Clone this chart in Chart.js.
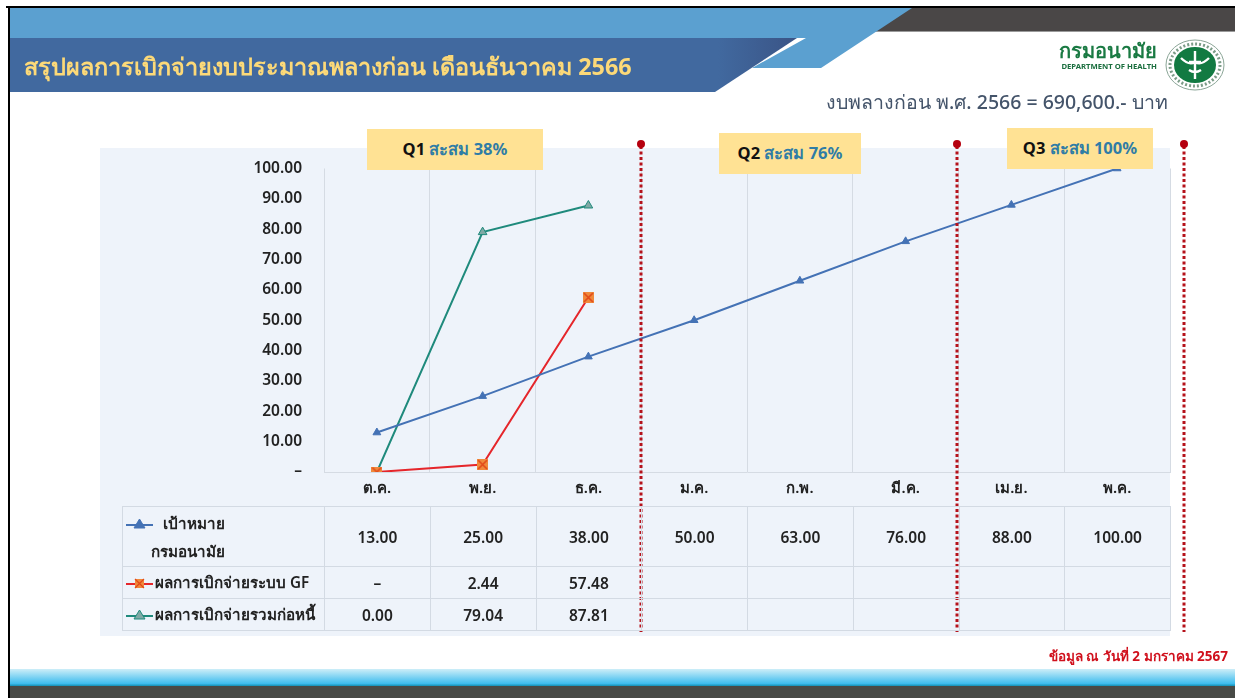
<!DOCTYPE html>
<html lang="th">
<head>
<meta charset="utf-8">
<title>สรุปผลการเบิกจ่ายงบประมาณพลางก่อน</title>
<script src="https://cdn.jsdelivr.net/npm/chart.js@4/dist/chart.umd.min.js"></script>
<style>
  html, body { margin: 0; padding: 0; background: #fff; }
  body { width: 1235px; height: 698px; position: relative; overflow: hidden;
         font-family: "Noto Sans", "Liberation Sans", "DejaVu Sans", sans-serif; }
  .abs { position: absolute; }
  #deco { left: 0; top: 0; }
  #panel { left: 100px; top: 148px; width: 1070px; height: 488px; background: #eef3fa; }
  #chart { left: 0; top: 0; }
  #title { left: 24px; top: 48px; font-size: 23.4px; font-weight: 700; color: #fcd978; white-space: nowrap; }
  #budget { left: 826px; top: 87px; font-size: 19.5px; font-weight: 500; color: #44546a; white-space: nowrap; }
  #dept { left: 1030px; top: 40px; width: 127px; text-align: right; color: #1a7a43; font-size: 20px; font-weight: 700; line-height: 22px; white-space: nowrap; }
  #dept small { display: block; font-size: 7.7px; line-height: 9px; color: #1a6e3e; }
  #source { right: 7px; top: 645px; font-size: 13.5px; font-weight: 700; color: #d0101c; white-space: nowrap; }
  .qbox { position: absolute; background: #ffe294; height: 41px; line-height: 40px; text-align: center;
          font-size: 16.5px; font-weight: 700; color: #111; white-space: nowrap; }
  .qbox span { color: #2f7ca6; }
  #dataTable { position: absolute; left: 122px; top: 506px; width: 1048px; border-collapse: collapse; table-layout: fixed;
               font-size: 15.5px; font-weight: 600; color: #222; }
  #dataTable td { border: 1px solid #d3dae3; text-align: center; padding: 0; height: 31px; }
  #dataTable td.head { text-align: left; font-size: 15.2px; white-space: nowrap; padding-left: 2px; overflow: hidden; }
  #dataTable tr:first-child td { height: 59px; }
  #dataTable svg { vertical-align: middle; margin-right: 1px; }
</style>
</head>
<body>
<svg id="deco" class="abs" width="1235" height="698">
  <defs>
    <linearGradient id="foot" x1="0" y1="0" x2="0" y2="1">
      <stop offset="0" stop-color="#cdeef8"/>
      <stop offset=".85" stop-color="#3fbdee"/>
      <stop offset="1" stop-color="#128fb4"/>
    </linearGradient>
    <linearGradient id="shade" x1="0" y1="0" x2="1" y2="0">
      <stop offset="0" stop-color="#41699f"/>
      <stop offset=".9" stop-color="#41699f"/>
      <stop offset="1" stop-color="#3a5486"/>
    </linearGradient>
  </defs>
  <rect x="8" y="8" width="1227" height="23" fill="#4a4747"/>
  <rect x="8" y="31" width="1227" height="1" fill="#9a9a9a"/>
  <polygon points="8,8 912,8 821,68 752,68 806,38 8,38" fill="#5ba0d0"/>
  <polygon points="8,38 797,38 715,92 8,92" fill="url(#shade)"/>
  <rect x="6" y="6" width="1229" height="2" fill="#000"/>
  <rect x="8" y="669" width="1227" height="17" fill="url(#foot)"/>
  <rect x="8" y="686" width="1227" height="12" fill="#484a46"/>
  <rect x="8" y="6" width="2" height="692" fill="#000"/>
  <g transform="translate(1195,65)">
    <ellipse rx="29" ry="25" fill="#fff" stroke="#8aa596" stroke-width="1"/>
    <ellipse rx="25" ry="21" fill="none" stroke="#7c9c88" stroke-width="3" stroke-dasharray="2 2"/>
    <ellipse rx="21" ry="18" fill="#127a42"/>
    <path d="M0,-14 V14 M-14,-7 Q-6,1 0,-3 Q6,1 14,-7 M-6,5 Q0,9 6,5 M-6,-3 H6" stroke="#fff" stroke-width="2.4" fill="none"/>
  </g>
</svg>
<div id="panel" class="abs"></div>
<canvas id="chart" class="abs" width="1235" height="698"></canvas>
<div id="title" class="abs">สรุปผลการเบิกจ่ายงบประมาณพลางก่อน เดือนธันวาคม 2566</div>
<div id="dept" class="abs">กรมอนามัย<small>DEPARTMENT OF HEALTH</small></div>
<div id="budget" class="abs">งบพลางก่อน พ.ศ. 2566 = 690,600.- บาท</div>
<div id="source" class="abs">ข้อมูล ณ วันที่ 2 มกราคม 2567</div>
<div id="boxes"></div>
<table id="dataTable"></table>

<script>
const months = ["ต.ค.", "พ.ย.", "ธ.ค.", "ม.ค.", "ก.พ.", "มี.ค.", "เม.ย.", "พ.ค."];
const targetValues = [13, 25, 38, 50, 63, 76, 88, 100];
const gfValues = [0, 2.44, 57.48];
const commitValues = [0, 79.04, 87.81];
const yTicks = [0, 10, 20, 30, 40, 50, 60, 70, 80, 90, 100];
const quarterLabels = ["Q1", "Q2", "Q3"];
const quarterTexts = ["สะสม 38%", "สะสม 76%", "สะสม 100%"];
const quarterEnds = [2.5, 5.49, 7.63];

const BLUE = "#4472b5", RED = "#e5262b", TEAL = "#1f8a7c";

// orange square with a cross, chart.js has no such point style
const gfMarker = document.createElement("canvas");
gfMarker.width = gfMarker.height = 11;
const mctx = gfMarker.getContext("2d");
mctx.fillStyle = "#f08a3c";
mctx.fillRect(0, 0, 11, 11);
mctx.strokeStyle = "#e2491a";
mctx.lineWidth = 1.6;
mctx.beginPath();
mctx.moveTo(1, 1); mctx.lineTo(10, 10);
mctx.moveTo(10, 1); mctx.lineTo(1, 10);
mctx.stroke();

// dotted quarter dividers with the red dot on top
const quarterLines = {
  id: "quarterLines",
  afterDatasetsDraw(chart) {
    const { ctx, scales } = chart;
    ctx.save();
    quarterEnds.forEach(q => {
      const x = Math.round(scales.x.getPixelForValue(q));
      ctx.strokeStyle = "#b5121b";
      ctx.lineWidth = 3;
      ctx.setLineDash([3, 2.5]);
      ctx.beginPath();
      ctx.moveTo(x, 146);
      ctx.lineTo(x, 632);
      ctx.stroke();
      ctx.setLineDash([]);
      ctx.fillStyle = "#b5000f";
      ctx.beginPath();
      ctx.arc(x, 144, 4, 0, Math.PI * 2);
      ctx.fill();
    });
    ctx.restore();
  }
};

new Chart(document.getElementById("chart").getContext("2d"), {
  type: "line",
  plugins: [quarterLines],
  data: {
    labels: months,
    datasets: [
      { label: "เป้าหมาย กรมอนามัย", data: targetValues, borderColor: BLUE, backgroundColor: BLUE,
        pointStyle: "triangle", pointRadius: 4.5 },
      { label: "ผลการเบิกจ่ายระบบ GF", data: gfValues, borderColor: RED, backgroundColor: "#f08a3c",
        pointStyle: gfMarker },
      { label: "ผลการเบิกจ่ายรวมก่อหนี้", data: commitValues, borderColor: TEAL, backgroundColor: "#7fa9a5",
        pointStyle: "triangle", pointRadius: 5, pointBorderColor: TEAL, pointBorderWidth: 1 }
    ]
  },
  options: {
    responsive: false,
    animation: false,
    devicePixelRatio: 1,
    layout: { padding: { left: 204, right: 65, top: 168.5, bottom: 192 } },
    elements: { line: { borderWidth: 2, tension: 0 } },
    plugins: { legend: { display: false }, tooltip: { enabled: false } },
    scales: {
      x: {
        offset: true,
        afterFit: s => { s.height = 34; },
        grid: { color: "#d5dbe3", lineWidth: 1, drawTicks: false, offset: true },
        border: { color: "#d5dbe3" },
        ticks: { color: "#222", padding: 8, font: { size: 15, weight: "600", family: "'Noto Sans','Liberation Sans'" } }
      },
      y: {
        min: 0,
        max: 100,
        afterFit: s => { s.width = 120; },
        afterBuildTicks: s => { s.ticks = yTicks.map(v => ({ value: v })); },
        grid: { drawOnChartArea: false, drawTicks: false },
        border: { display: false },
        ticks: {
          color: "#222",
          padding: 22,
          font: { size: 15.5, weight: "600", family: "'Noto Sans','Liberation Sans'" },
          callback: v => v === 0 ? "–" : v.toFixed(2)
        }
      }
    }
  }
});

const boxPos = [[367, 129, 176], [719, 133, 142], [1007, 128, 146]];
document.getElementById("boxes").innerHTML = quarterLabels.map((q, i) =>
  `<div class="qbox" style="left:${boxPos[i][0]}px;top:${boxPos[i][1]}px;width:${boxPos[i][2]}px">${q} <span>${quarterTexts[i]}</span></div>`
).join("");

function key(color, fill, shape) {
  const m = shape === "x"
    ? `<rect x="10" y="2" width="9" height="9" fill="${fill}"/><path d="M10,2 L19,11 M19,2 L10,11" stroke="#e2491a" stroke-width="1.2"/>`
    : `<polygon points="14.5,1 20,10 9,10" fill="${fill}" stroke="${color}"/>`;
  return `<svg width="29" height="12"><line x1="1" y1="7" x2="28" y2="7" stroke="${color}" stroke-width="2"/>${m}</svg>`;
}
const fmt = (arr, dashZero) => months.map((_, i) => {
  if (arr[i] === undefined) return "<td></td>";
  return `<td>${arr[i] === 0 && dashZero ? "–" : arr[i].toFixed(2)}</td>`;
}).join("");
const colGroup = `<colgroup><col style="width:202px">${months.map(() => '<col style="width:105.75px">').join("")}</colgroup>`;
document.getElementById("dataTable").innerHTML = colGroup +
  `<tr><td class="head" style="line-height:28px">${key(BLUE, BLUE, "t")}&nbsp; เป้าหมาย<br><span style="padding-left:26px">กรมอนามัย</span></td>${fmt(targetValues)}</tr>` +
  `<tr><td class="head">${key(RED, "#f08a3c", "x")}ผลการเบิกจ่ายระบบ GF</td>${fmt(gfValues, true)}</tr>` +
  `<tr><td class="head">${key(TEAL, "#7fa9a5", "t")}ผลการเบิกจ่ายรวมก่อหนี้</td>${fmt(commitValues)}</tr>`;
</script>
</body>
</html>
